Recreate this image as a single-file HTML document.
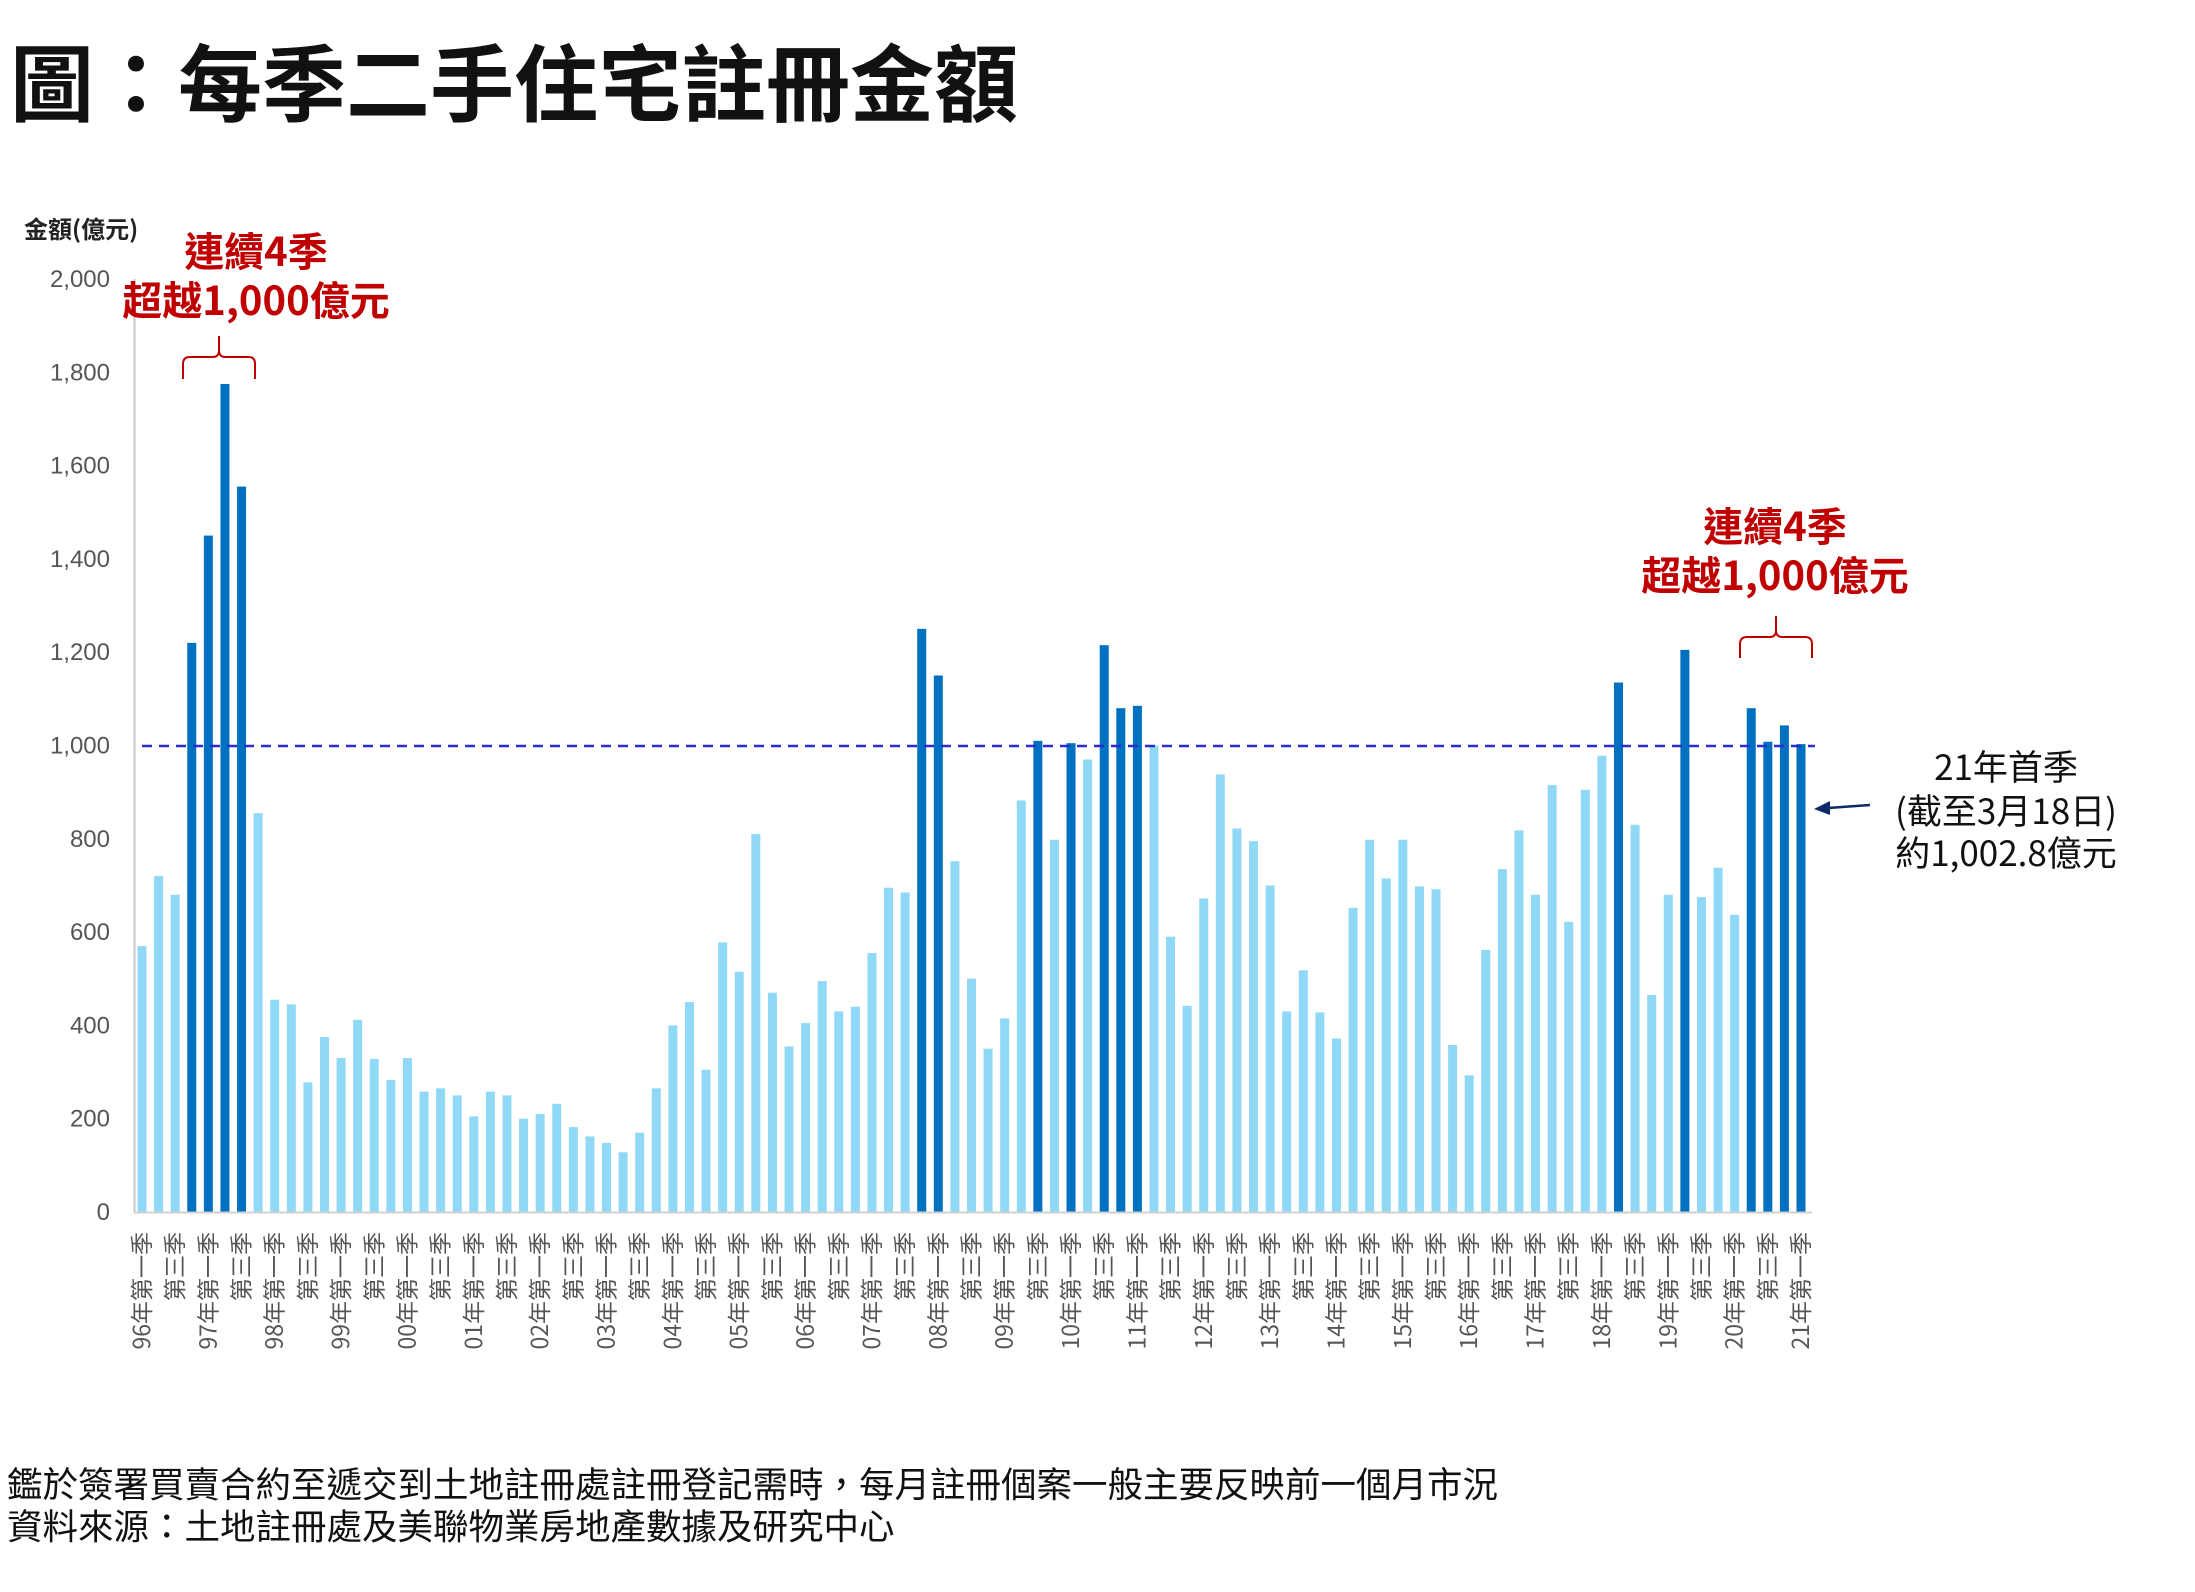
<!DOCTYPE html>
<html><head><meta charset="utf-8"><style>
html,body{margin:0;padding:0;background:#fff;}
svg{display:block;}
</style></head><body>
<svg id="c" width="2195" height="1592" xmlns="http://www.w3.org/2000/svg" font-family="'Liberation Sans','Noto Sans CJK TC',sans-serif">
<text x="10" y="115" font-size="84" font-weight="bold" fill="#111" font-family="'Noto Sans CJK TC',sans-serif">圖：每季二手住宅註冊金額</text>
<text x="24" y="238" font-size="24" font-weight="bold" fill="#222" font-family="'Noto Sans CJK TC',sans-serif">金額(億元)</text>
<g id="ticks" font-size="24" fill="#555" text-anchor="end"></g>
<line x1="134.5" y1="279" x2="134.5" y2="1212" stroke="#c8c8c8" stroke-width="2"/>
<g id="bars"></g>
<line x1="134" y1="1212.5" x2="1812" y2="1212.5" stroke="#d0d0d0" stroke-width="2"/>
<line x1="142" y1="746" x2="1815" y2="746" stroke="#2b2bd0" stroke-width="2.5" stroke-dasharray="10,7"/>
<g id="labels" font-size="23" fill="#555" font-family="'Noto Sans CJK TC',sans-serif"></g>
<g font-size="40" font-weight="bold" fill="#c00000" text-anchor="middle" font-family="'Noto Sans CJK TC',sans-serif">
<text x="256" y="266">連續4季</text>
<text x="256" y="315">超越1,000億元</text>
<text x="1775" y="541">連續4季</text>
<text x="1775" y="590">超越1,000億元</text>
</g>
<g fill="none" stroke="#c00000" stroke-width="2">
<path d="M183,379 L183,364 Q183,357 190,357 L213,357 Q219,357 219,350 L219,336 L219,350 Q219,357 225,357 L249,357 Q255,357 255,364 L255,379"/>
<path d="M1740,658 L1740,644 Q1740,637 1747,637 L1770,637 Q1776,637 1776,630 L1776,616 L1776,630 Q1776,637 1782,637 L1805,637 Q1812,637 1812,644 L1812,658"/>
</g>
<g font-size="35" fill="#111" text-anchor="middle" font-family="'Noto Sans CJK TC',sans-serif">
<text x="2006" y="780">21年首季</text>
<text x="2006" y="824">(截至3月18日)</text>
<text x="2006" y="866">約1,002.8億元</text>
</g>
<line x1="1870" y1="805" x2="1828" y2="808" stroke="#0d2a6b" stroke-width="2.5"/>
<path d="M1814,809 L1830,801 L1830,815 Z" fill="#0d2a6b"/>
<g font-size="35.5" fill="#111" font-family="'Noto Sans CJK TC',sans-serif">
<text x="7" y="1497">鑑於簽署買賣合約至遞交到土地註冊處註冊登記需時，每月註冊個案一般主要反映前一個月市況</text>
<text x="7" y="1539">資料來源：土地註冊處及美聯物業房地產數據及研究中心</text>
</g>
</svg>
<script>
var v=[570,720,680,1220,1450,1775,1555,855,455,445,278,375,330,412,328,283,330,258,265,250,205,258,250,200,210,232,182,162,148,128,170,265,400,450,305,578,515,810,470,355,405,495,430,440,555,695,685,1250,1150,752,500,350,415,882,1010,798,1005,970,1215,1080,1085,1000,590,442,672,938,822,795,700,430,518,428,372,652,798,715,798,698,692,358,293,562,735,818,680,915,622,905,978,1135,830,465,680,1205,675,738,637,1080,1008,1043,1003];
var dark={3:1,4:1,5:1,6:1,47:1,48:1,54:1,56:1,58:1,59:1,60:1,89:1,93:1,97:1,98:1,99:1,100:1};
var ns="http://www.w3.org/2000/svg";
function el(t,a,p,txt){var e=document.createElementNS(ns,t);for(var k in a)e.setAttribute(k,a[k]);if(txt)e.textContent=txt;p.appendChild(e);return e;}
var B=document.getElementById("bars"),L=document.getElementById("labels"),T=document.getElementById("ticks");
var y0=1212,k=933/2000;
for(var i=0;i<=10;i++){var val=i*200;el("text",{x:110,y:y0-val*k+8},T,val.toLocaleString("en-US"));}
for(var i=0;i<v.length;i++){
 var cx=142+16.59*i,h=v[i]*k;
 el("rect",{x:cx-4.5,y:y0-h,width:9,height:h,fill:dark[i]?"#0070c0":"#8fd8f6"},B);
 if(i%2==0){
  var yr=96+Math.floor(i/4);var s=(yr%100<10?"0":"")+(yr%100);
  var t=(i%4==0)?(s+"年第一季"):"第三季";
  el("text",{x:0,y:0,transform:"translate("+(cx+8)+",1232) rotate(-90)","text-anchor":"end"},L,t);
 }
}
</script>
</body></html>
